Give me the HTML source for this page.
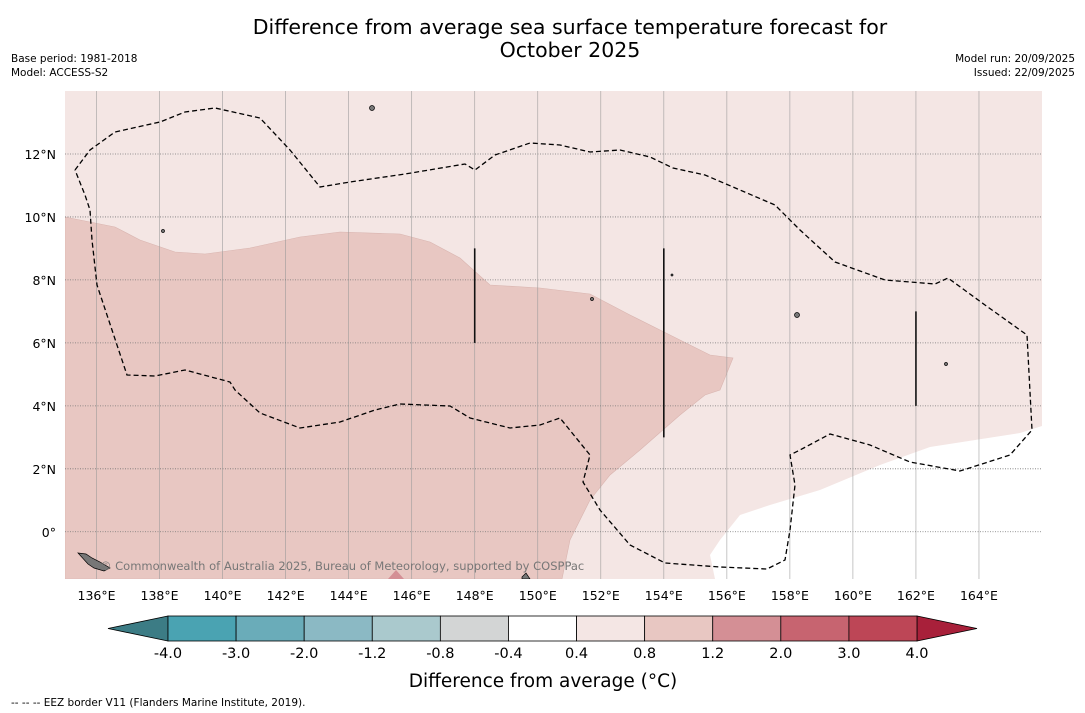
<!DOCTYPE html>
<html><head><meta charset="utf-8"><style>
body{margin:0;background:#fff;font-family:"DejaVu Sans","Liberation Sans",sans-serif;}
svg{display:block}
</style></head><body>
<svg id="fig" width="1085" height="713" viewBox="0 0 1085 713" font-family="DejaVu Sans, Liberation Sans, sans-serif">
<rect width="1085" height="713" fill="#fff"/>
<text x="570" y="34" font-size="20.5" text-anchor="middle" fill="#000">Difference from average sea surface temperature forecast for</text>
<text x="570" y="57" font-size="20.5" text-anchor="middle" fill="#000">October 2025</text>
<text x="11" y="62" font-size="10.5">Base period: 1981-2018</text>
<text x="11" y="76" font-size="10.5">Model: ACCESS-S2</text>
<text x="1075" y="62" font-size="10.5" text-anchor="end">Model run: 20/09/2025</text>
<text x="1075" y="76" font-size="10.5" text-anchor="end">Issued: 22/09/2025</text>
<g id="map"></g>
<g id="cbar"></g>
<text x="543" y="687" font-size="18.5" text-anchor="middle">Difference from average (°C)</text>
<text x="11" y="706" font-size="10.5">--  --  -- EEZ border V11 (Flanders Marine Institute, 2019).</text>
</svg>
<script>
const lonTicks=[136,138,140,142,144,146,148,150,152,154,156,158,160,162,164];
const latTicks=[0,2,4,6,8,10,12];
const levels=[-4.0,-3.0,-2.0,-1.2,-0.8,-0.4,0.4,0.8,1.2,2.0,3.0,4.0];
const levelColors=["#4aa3b2","#6aacb9","#8bb9c4","#aac9cd","#d3d5d5","#ffffff","#f4e6e4","#e8c7c2","#d48f95","#c76470","#bd4656"];
const underColor="#3c7c85", overColor="#a8203a";
const landBars=[[148,6,9],[154,3,9],[162,4,7]];

const NS="http://www.w3.org/2000/svg";
const X0=65,X1=1042,Y0=91,Y1=579,LON0=135,LON1=166,LAT0=-1.5,LAT1=14;
const xs=l=>X0+(l-LON0)/(LON1-LON0)*(X1-X0);
const ys=l=>Y1-(l-LAT0)/(LAT1-LAT0)*(Y1-Y0);
function mk(tag,attrs,parent){const e=document.createElementNS(NS,tag);for(const k in attrs)e.setAttribute(k,attrs[k]);parent.appendChild(e);return e;}
const map=document.getElementById('map');
const defs=mk('defs',{},map);
const cp=mk('clipPath',{id:'clip'},defs);mk('rect',{x:X0,y:Y0,width:X1-X0,height:Y1-Y0},cp);
const g=mk('g',{'clip-path':'url(#clip)'},map);
let r=mk('rect',{x:X0,y:Y0,width:X1-X0,height:Y1-Y0,fill:'#f4e6e4'},g);

let p=mk('polygon',{points:"65,217 115,227 140,240 175,252 205,254 250,248 300,237 340,232 400,234 430,242 460,258 490,285 540,288 590,294 630,315 670,335 710,355 733,358 720,390 705,395 680,415 640,450 610,475 590,500 570,540 562,579 65,579",fill:'#e8c7c2',stroke:'#d9b5b0','stroke-width':0.6},g);

p=mk('polygon',{points:"1042,426 1020,433 930,447 880,465 820,490 770,505 740,515 720,540 710,555 715,579 1042,579",fill:'#ffffff'},g);

p=mk('polygon',{points:"388,579 396,570 404,579",fill:'#d48f95'},g);

lonTicks.forEach(l=>{const ln=mk('line',{x1:xs(l),x2:xs(l),y1:Y0,y2:Y1,stroke:'#999','stroke-width':0.7,opacity:0.8},g);

const t=mk('text',{x:xs(l),y:600,'font-size':12.5,'text-anchor':'middle'},map);t.textContent=l+'°E';
});
latTicks.forEach(l=>{const ln=mk('line',{x1:X0,x2:X1,y1:ys(l),y2:ys(l),stroke:'#777','stroke-width':0.8,'stroke-dasharray':'1,1.5'},g);

const t=mk('text',{x:56,y:ys(l)+5,'font-size':12.5,'text-anchor':'end'},map);t.textContent=l===0?'0°':l+'°N';
});
p=mk('polyline',{points:"75,170 90,150 115,132 160,122 185,112 215,108 260,118 290,150 320,187 350,182 405,174 465,164 475,170 495,155 530,143 560,145 590,152 620,150 650,157 673,168 705,175 740,190 775,205 800,230 835,262 885,280 935,284 948,278 985,305 1027,335 1032,430 1010,455 960,471 910,462 870,445 830,434 800,450 790,455 795,485 790,530 785,560 767,569 720,567 665,563 630,545 600,510 583,482 590,455 560,418 540,425 510,428 470,418 450,406 400,404 375,410 340,422 300,428 260,413 235,390 230,382 185,370 155,376 127,375 112,330 97,285 92,240 90,210 85,195 75,170",fill:'none',stroke:'#000','stroke-width':1.3,'stroke-dasharray':'5,3'},g);

landBars.forEach(b=>{const ln=mk('line',{x1:xs(b[0]),x2:xs(b[0]),y1:ys(b[2]),y2:ys(b[1]),stroke:'#111','stroke-width':1.6},g);
});
[[372,108,2.5],[163,231,1.5],[797,315,2.5],[946,364,1.5],[592,299,1.5],[672,275,1]].forEach(d=>{const c=mk('circle',{cx:d[0],cy:d[1],r:d[2],fill:'#777',stroke:'#000','stroke-width':0.7},g);
});
p=mk('polygon',{points:"78,553 86,554 92,558 100,562 110,568 104,571 94,568 88,564",fill:'#777',stroke:'#000','stroke-width':0.7},g);

p=mk('polygon',{points:"522,577 526,573 530,579 522,579",fill:'#777',stroke:'#000','stroke-width':0.7},g);

let wm=mk('text',{x:100,y:570,'font-size':11.5,fill:'#777'},g);
wm.textContent='© Commonwealth of Australia 2025, Bureau of Meteorology, supported by COSPPac';

const cb=document.getElementById('cbar');
const CX0=168,CX1=917,CY0=616,CY1=641,n=levelColors.length,w=(CX1-CX0)/n;
let tri=mk('polygon',{points:`${CX0},${CY0} ${CX0},${CY1} 108,${(CY0+CY1)/2}`,fill:underColor,stroke:'#000','stroke-width':0.8},cb);

tri=mk('polygon',{points:`${CX1},${CY0} ${CX1},${CY1} 977,${(CY0+CY1)/2}`,fill:overColor,stroke:'#000','stroke-width':0.8},cb);

levelColors.forEach((c,i)=>{const b=mk('rect',{x:CX0+i*w,y:CY0,width:w,height:CY1-CY0,fill:c,stroke:'#000','stroke-width':0.8},cb);
});
levels.forEach((v,i)=>{const t=mk('text',{x:CX0+i*w,y:658,'font-size':14.5,'text-anchor':'middle'},cb);t.textContent=v.toFixed(1);
});
</script>
</body></html>
